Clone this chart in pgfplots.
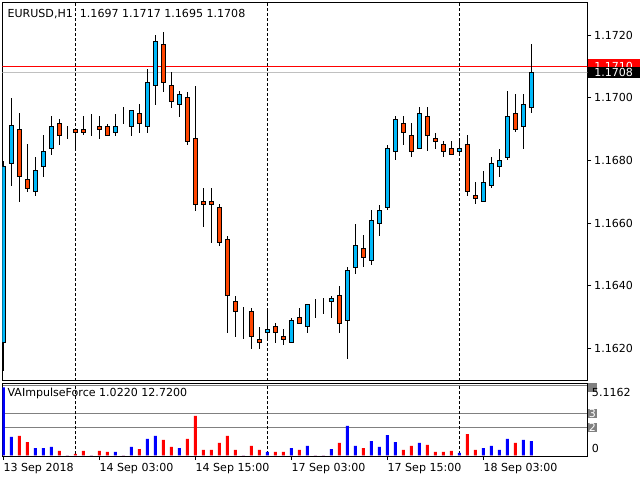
\documentclass[border=0pt]{standalone}
\usepackage{pgfplots}
\pgfplotsset{compat=1.18}
\usepackage{pgfplotstable}
\usepackage{fontspec}
\setmainfont{DejaVu Sans}
\definecolor{bullc}{RGB}{0,185,250}
\definecolor{bearc}{RGB}{255,69,0}
\definecolor{silv}{RGB}{192,192,192}
\definecolor{lvl}{RGB}{128,128,128}
\newcommand{\f}{\fontsize{8.3}{10}\selectfont}

\pgfplotstableread{
i o h l c
0 1.16219 1.16801 1.16130 1.16781
1 1.16791 1.16999 1.16719 1.16910
2 1.16899 1.16951 1.16668 1.16748
3 1.16739 1.16852 1.16700 1.16711
4 1.16701 1.16811 1.16687 1.16768
5 1.16781 1.16881 1.16748 1.16829
6 1.16838 1.16941 1.16818 1.16909
7 1.16918 1.16931 1.16850 1.16880
8 1.16889 1.16910 1.16869 1.16889
9 1.16899 1.16899 1.16838 1.16889
10 1.16899 1.16941 1.16880 1.16889
11 1.16899 1.16951 1.16880 1.16899
12 1.16909 1.16941 1.16869 1.16899
13 1.16909 1.16918 1.16880 1.16880
14 1.16889 1.16951 1.16880 1.16909
15 1.16918 1.16970 1.16918 1.16918
16 1.16909 1.16960 1.16880 1.16960
17 1.16950 1.16980 1.16887 1.16917
18 1.16909 1.17091 1.16887 1.17049
19 1.17038 1.17200 1.16977 1.17180
20 1.17170 1.17210 1.17019 1.17049
21 1.17039 1.17082 1.16967 1.16988
22 1.16979 1.17021 1.16939 1.17011
23 1.16999 1.17021 1.16850 1.16859
24 1.16870 1.17040 1.16639 1.16658
25 1.16669 1.16712 1.16588 1.16660
26 1.16669 1.16712 1.16537 1.16660
27 1.16650 1.16660 1.16528 1.16538
28 1.16548 1.16561 1.16251 1.16369
29 1.16350 1.16369 1.16238 1.16318
30 1.16309 1.16331 1.16229 1.16309
31 1.16318 1.16331 1.16200 1.16238
32 1.16229 1.16270 1.16200 1.16219
33 1.16251 1.16328 1.16226 1.16261
34 1.16270 1.16280 1.16219 1.16251
35 1.16238 1.16261 1.16210 1.16229
36 1.16219 1.16299 1.16219 1.16289
37 1.16299 1.16331 1.16280 1.16280
38 1.16270 1.16341 1.16251 1.16341
39 1.16350 1.16360 1.16299 1.16350
40 1.16360 1.16360 1.16309 1.16360
41 1.16350 1.16369 1.16299 1.16360
42 1.16369 1.16398 1.16251 1.16280
43 1.16289 1.16459 1.16168 1.16449
44 1.16459 1.16599 1.16439 1.16529
45 1.16519 1.16561 1.16459 1.16490
46 1.16481 1.16641 1.16468 1.16609
47 1.16599 1.16660 1.16561 1.16641
48 1.16650 1.16851 1.16641 1.16838
49 1.16829 1.16941 1.16800 1.16931
50 1.16918 1.16941 1.16851 1.16889
51 1.16880 1.16918 1.16810 1.16829
52 1.16838 1.16970 1.16838 1.16950
53 1.16941 1.16970 1.16829 1.16880
54 1.16870 1.16889 1.16838 1.16861
55 1.16851 1.16861 1.16810 1.16829
56 1.16838 1.16861 1.16819 1.16819
57 1.16829 1.16870 1.16819 1.16838
58 1.16851 1.16880 1.16687 1.16701
59 1.16688 1.16730 1.16660 1.16679
60 1.16669 1.16768 1.16669 1.16730
61 1.16720 1.16810 1.16711 1.16791
62 1.16781 1.16838 1.16749 1.16800
63 1.16810 1.17020 1.16800 1.16941
64 1.16950 1.17011 1.16889 1.16899
65 1.16909 1.17011 1.16838 1.16979
66 1.16970 1.17170 1.16950 1.17081
}\candles

\pgfplotstableread{
i b r
0 4.86 0
1 1.31 0
2 0 1.38
3 0 0.95
4 0.52 0
5 0.52 0
6 0.60 0
7 0 0.31
8 0 0
9 0 0.10
10 0 0.31
11 0 0
12 0 0.31
13 0 0.24
14 0.24 0
15 0 0
16 0.60 0
17 0 0.45
18 1.17 0
19 1.38 0
20 0 1.10
21 0 0.60
22 0.52 0
23 0 1.17
24 0 2.81
25 0 0.38
26 0 0.38
27 0 0.88
28 0 1.38
29 0 0.38
30 0 0
31 0 0.67
32 0 0.38
33 0.24 0
34 0 0.24
35 0 0.24
36 0.52 0
37 0 0.38
38 0.67 0
39 0 0
40 0 0
41 0.45 0
42 0 0.88
43 2.10 0
44 0.67 0
45 0 0.52
46 1.02 0
47 0.60 0
48 1.45 0
49 0.95 0
50 0 0.38
51 0 0.67
52 0.88 0
53 0 0.74
54 0 0.24
55 0 0.24
56 0 0.31
57 0.17 0
58 0 1.52
59 0 0.38
60 0.52 0
61 0.67 0
62 0.38 0
63 1.17 0
64 0 0.88
65 1.10 0
66 1.02 0
}\imp

\begin{document}
\begin{tikzpicture}[x=0.75pt,y=0.75pt,font=\f]
\useasboundingbox (0,0) rectangle (640,480);
\fill[white] (0,0) rectangle (640,480);
\pgfplotsset{
  mainax/.style={scale only axis, width=438.75pt, height=283.5pt,
    at={(1.725pt,74.775pt)}, anchor=south west,
    xmin=-0.125, xmax=72.99, ymin=9.80, ymax=130.44, enlargelimits=false},
  sep/.style={sharp plot, black, line width=0.75pt, dash pattern=on 2.25pt off 1.5pt, forget plot}
}
% main panel: frame, ticks, lines, wicks
\begin{axis}[mainax,
  xtick=\empty,
  ytick={20,40,60,80,100,120},
  yticklabels={1.1620,1.1640,1.1660,1.1680,1.1700,1.1720},
  ytick pos=right, yticklabel pos=right,
  tick align=outside, major tick length=3pt,
  tick style={black, line width=0.75pt},
  axis line style={line width=0.75pt},
  yticklabel style={font=\f, anchor=west, inner xsep=2pt}]
\addplot[silv, line width=0.75pt] coordinates {(-5,108.1) (80,108.1)};
\addplot[red, line width=0.75pt] coordinates {(-5,110) (80,110)};
\addplot[sep] coordinates {(9,0) (9,200)};
\addplot[sep] coordinates {(33,0) (33,200)};
\addplot[sep] coordinates {(57,0) (57,200)};
\addplot[draw=none, mark=none, error bars/.cd, y dir=both, y explicit, error mark=none,
  error bar style={draw=black, solid, line width=0.75pt}]
  table[x=i, y expr={((\thisrow{h}+\thisrow{l})/2-1.16)*10000}, y error expr={(\thisrow{h}-\thisrow{l})*5000}] {\candles};
\end{axis}
% main panel: candle bodies
\begin{axis}[mainax, hide axis, ybar stacked, bar width=3pt]
\addplot[draw=none, fill=none] table[x=i, y expr={(min(\thisrow{o},\thisrow{c})-1.16)*10000}] {\candles};
\addplot[draw=black, fill=bullc, line width=0.75pt] table[x=i, y expr={max(\thisrow{c}-\thisrow{o},0)*10000}] {\candles};
\addplot[draw=black, fill=bearc, line width=0.75pt] table[x=i, y expr={max(\thisrow{o}-\thisrow{c},0)*10000}] {\candles};
\end{axis}
% indicator panel
\begin{axis}[scale only axis, width=438.75pt, height=54.75pt,
  at={(1.725pt,18pt)}, anchor=south west,
  xmin=-0.125, xmax=72.99, ymin=-0.05, ymax=5.164, enlargelimits=false,
  ybar, bar width=2.25pt, bar shift=0pt,
  xtick={0,12,24,36,48,60},
  xticklabels={13 Sep 2018,14 Sep 03:00,14 Sep 15:00,17 Sep 03:00,17 Sep 15:00,18 Sep 03:00},
  xtick pos=bottom, tick align=outside, major tick length=3pt,
  xtick style={black, line width=0.75pt},
  xticklabel style={font=\f, anchor=north west, inner xsep=0pt, inner ysep=2pt},
  ytick={2,3,5}, yticklabels={}, ytick style={draw=none},
  ymajorgrids, major grid style={lvl, line width=0.75pt},
  axis line style={line width=0.75pt}]
\addplot[sep] coordinates {(9,-1) (9,10)};
\addplot[sep] coordinates {(33,-1) (33,10)};
\addplot[sep] coordinates {(57,-1) (57,10)};
\addplot[draw=none, fill=blue] table[x=i, y=b] {\imp};
\addplot[draw=none, fill=red] table[x=i, y=r] {\imp};
\end{axis}
% texts
\node[anchor=base west, inner sep=0pt] at (7.3,462.7) {EURUSD,H1\ \ 1.1697 1.1717 1.1695 1.1708};
\node[anchor=base west, inner sep=0pt] at (7.3,83.3) {VAImpulseForce 1.0220 12.7200};
% price boxes
\fill[red] (588.3,409) rectangle (640,420.7);
\node[anchor=base west, inner sep=0pt, text=white] at (594,409.7) {1.1710};
\fill[black] (588.3,402) rectangle (640,413.3);
\node[anchor=base west, inner sep=0pt, text=white] at (594,403.7) {1.1708};
% indicator scale labels
\fill[lvl] (588.3,88.3) rectangle (596.7,97.3);
\node[anchor=base west, inner sep=0pt] at (591.7,84) {5.1162};
\fill[lvl] (588.3,62) rectangle (596.7,71.3);
\node[text=white, inner sep=0pt] at (592.5,66.7) {3};
\fill[lvl] (588.3,47.7) rectangle (596.7,57.3);
\node[text=white, inner sep=0pt] at (592.5,52.5) {2};
\node[anchor=base west, inner sep=0pt] at (591.7,28) {0};
\end{tikzpicture}
\end{document}
